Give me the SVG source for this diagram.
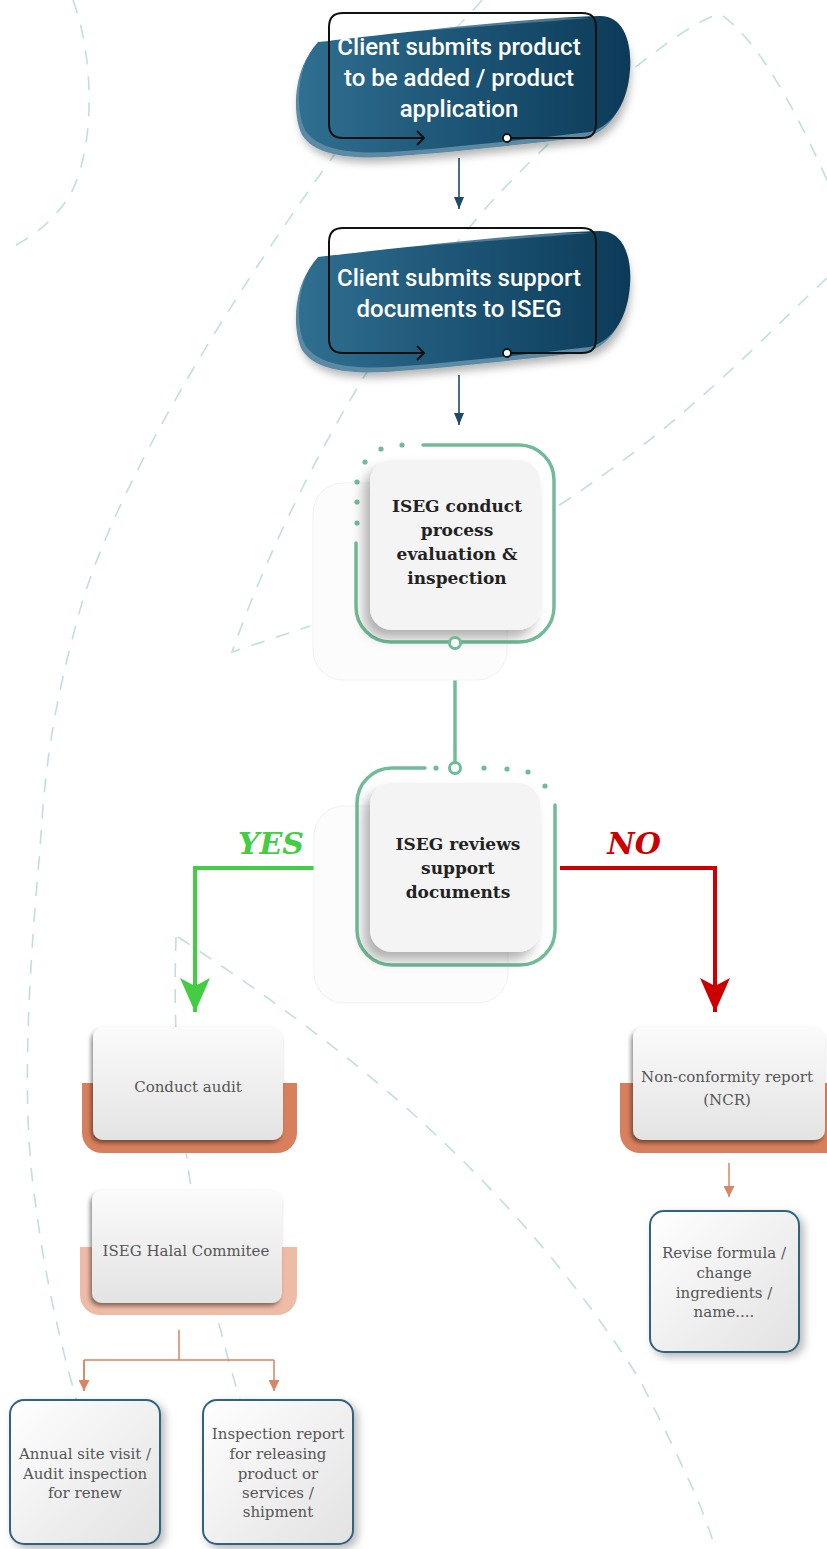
<svg xmlns="http://www.w3.org/2000/svg" width="827" height="1549" viewBox="0 0 827 1549">
<style>
.bg{fill:none;stroke:#bfe0dc;stroke-width:1.6;stroke-dasharray:14 12}
.wt{font-family:Roboto,"Open Sans","DejaVu Sans",sans-serif;font-size:24px;font-weight:500;fill:#fff;text-anchor:middle}
.bt{font-family:"DejaVu Serif","Liberation Serif",serif;font-size:17px;font-weight:bold;fill:#222;text-anchor:middle}
.gt{font-family:"DejaVu Serif","Liberation Serif",serif;font-size:15px;fill:#555;text-anchor:middle}
.frame{fill:none;stroke:#72bb99;stroke-width:3.5;stroke-linecap:round}
.dot{fill:#72bb99}
.ring{fill:#fff;stroke:#72bb99;stroke-width:3}
.card{fill:#f4f4f4;filter:url(#cs)}
.ocard{fill:url(#og);filter:url(#os)}
.bbox{fill:url(#bg2);stroke:#2f6382;stroke-width:2;filter:url(#bs)}
.outline{fill:none;stroke:#111;stroke-width:2}
.blue{stroke:#1d4a6b;stroke-width:1.6;fill:none}
.orange{stroke:#d98462;stroke-width:1.5;fill:none}
.faint{fill:#fcfcfc;stroke:#f1f1f1;stroke-width:1}
</style>
<defs>
<linearGradient id="blob" x1="0" y1="0" x2="1" y2="0">
<stop offset="0" stop-color="#306f90"/><stop offset="0.5" stop-color="#1c5475"/><stop offset="1" stop-color="#0c3b58"/>
</linearGradient>
<linearGradient id="og" x1="0" y1="0" x2="0" y2="1">
<stop offset="0" stop-color="#fbfbfb"/><stop offset="1" stop-color="#e3e3e3"/>
</linearGradient>
<linearGradient id="bg2" x1="0" y1="0" x2="1" y2="1">
<stop offset="0" stop-color="#ffffff"/><stop offset="1" stop-color="#e2e2e2"/>
</linearGradient>
<filter id="sh" x="-20%" y="-20%" width="140%" height="150%"><feDropShadow dx="3" dy="5" stdDeviation="4" flood-color="#000" flood-opacity="0.3"/></filter>
<filter id="cs" x="-30%" y="-30%" width="160%" height="160%"><feDropShadow dx="-6" dy="8" stdDeviation="6" flood-color="#000" flood-opacity="0.3"/></filter>
<filter id="os" x="-20%" y="-20%" width="140%" height="140%"><feDropShadow dx="-2" dy="3" stdDeviation="2" flood-color="#000" flood-opacity="0.45"/></filter>
<filter id="bs" x="-20%" y="-20%" width="140%" height="140%"><feDropShadow dx="4" dy="4" stdDeviation="4" flood-color="#000" flood-opacity="0.28"/></filter>
<marker id="ab" markerUnits="userSpaceOnUse" markerWidth="12" markerHeight="10" viewBox="0 0 12 10" refX="12" refY="5" orient="auto"><path d="M0,0 L12,5 L0,10 z" fill="#1d4a6b"/></marker>
<marker id="ao" markerUnits="userSpaceOnUse" markerWidth="11" markerHeight="11" viewBox="0 0 11 11" refX="11" refY="5.5" orient="auto"><path d="M0,0 L11,5.5 L0,11 z" fill="#d98462"/></marker>
<marker id="ag" markerUnits="userSpaceOnUse" markerWidth="34" markerHeight="30" viewBox="0 0 34 30" refX="34" refY="15" orient="auto"><path d="M0,0 L34,15 L0,30 L8,15 z" fill="#44cc44"/></marker>
<marker id="ar" markerUnits="userSpaceOnUse" markerWidth="34" markerHeight="30" viewBox="0 0 34 30" refX="34" refY="15" orient="auto"><path d="M0,0 L34,15 L0,30 L8,15 z" fill="#cc0000"/></marker>
<path id="blobshape" d="M318,42 C380,35 520,18 600,16 C625,16 632,45 630,70 C628,100 615,125 590,132 C520,140 450,148 390,152 C350,154 318,150 305,130 C295,110 296,65 318,42 Z"/>
</defs>
<rect width="827" height="1549" fill="#fff"/>

<g id="background">
<path class="bg" d="M73,0 C95,60 95,150 70,195 C55,220 30,240 5,250"/>
<path class="bg" d="M482,0 C440,50 380,90 340,147 C250,270 120,470 80,610 C55,700 45,760 40,850 C30,960 20,1100 35,1200 C45,1280 65,1370 95,1460"/>
<path class="bg" d="M827,180 C800,120 760,40 720,14 C690,20 600,90 520,172 C420,270 300,460 232,652 L310,626"/>
<path class="bg" d="M827,278 C760,340 690,420 555,508"/>
<path class="bg" d="M178,937 C320,1030 500,1160 640,1380 C680,1460 705,1510 715,1549"/>
<path class="bg" d="M176,937 C172,1050 180,1200 240,1400"/>
</g>

<g id="connectors">
<line class="blue" x1="459" y1="158" x2="459" y2="209" marker-end="url(#ab)"/>
<line class="blue" x1="459" y1="375" x2="459" y2="425" marker-end="url(#ab)"/>
<line x1="455" y1="650" x2="455" y2="762" stroke="#72bb99" stroke-width="3.5"/>
<path d="M350,868 H195 V1012" fill="none" stroke="#44cc44" stroke-width="4" marker-end="url(#ag)"/>
<path d="M560,868 H715 V1012" fill="none" stroke="#cc0000" stroke-width="4" marker-end="url(#ar)"/>
<text x="271" y="854" font-family="'DejaVu Serif','Liberation Serif',serif" font-size="30" font-weight="bold" font-style="italic" fill="#44cc44" text-anchor="middle">YES</text>
<text x="634" y="854" font-family="'DejaVu Serif','Liberation Serif',serif" font-size="30" font-weight="bold" font-style="italic" fill="#cc0000" text-anchor="middle">NO</text>
<path class="orange" d="M179,1330 V1360 M84,1360 H274 M84,1360 V1391 M274,1360 V1391" marker-end="url(#ao)"/>
<path class="orange" d="M84,1360 V1391" marker-end="url(#ao)"/>
<line class="orange" x1="729" y1="1163" x2="729" y2="1197" marker-end="url(#ao)"/>
</g>

<g id="node1">
<use href="#blobshape" fill="#5b8aa5" transform="translate(-3,5)" filter="url(#sh)"/>
<use href="#blobshape" fill="url(#blob)"/>
<path d="M345,30 C420,24 520,16 590,18 C540,22 440,30 345,36 Z" fill="#fff" opacity="0.25"/>
<path class="outline" d="M424,138 H343 Q329,138 329,124 V27 Q329,13 343,13 H582 Q596,13 596,27 V124 Q596,138 582,138 H511"/>
<path class="outline" d="M417,131 L424,138 L417,145"/>
<circle cx="507" cy="138" r="4" fill="#fff" stroke="#111" stroke-width="1.8"/>
<text class="wt" x="459" y="55">Client submits product</text>
<text class="wt" x="459" y="86">to be added / product</text>
<text class="wt" x="459" y="117">application</text>
</g>

<g id="node2">
<g transform="translate(0,215)">
<use href="#blobshape" fill="#5b8aa5" transform="translate(-3,5)" filter="url(#sh)"/>
<use href="#blobshape" fill="url(#blob)"/>
<path d="M345,30 C420,24 520,16 590,18 C540,22 440,30 345,36 Z" fill="#fff" opacity="0.25"/>
<path class="outline" d="M424,138 H343 Q329,138 329,124 V27 Q329,13 343,13 H582 Q596,13 596,27 V124 Q596,138 582,138 H511"/>
<path class="outline" d="M417,131 L424,138 L417,145"/>
<circle cx="507" cy="138" r="4" fill="#fff" stroke="#111" stroke-width="1.8"/>
</g>
<text class="wt" x="459" y="286">Client submits support</text>
<text class="wt" x="459" y="317">documents to ISEG</text>
</g>

<g id="node3">
<rect class="faint" x="313" y="483" width="194" height="197" rx="30"/>
<path class="frame" d="M423,445 H519 A35,35 0 0 1 554,480 V607 A35,35 0 0 1 519,642 H391 A35,35 0 0 1 356,607 V543"/>
<circle class="dot" cx="402" cy="445" r="2.6"/>
<circle class="dot" cx="381" cy="449" r="2.6"/>
<circle class="dot" cx="365" cy="462" r="2.6"/>
<circle class="dot" cx="357" cy="482" r="2.6"/>
<circle class="dot" cx="357" cy="502" r="2.6"/>
<circle class="dot" cx="357" cy="523" r="2.6"/>
<rect class="card" x="370" y="460" width="170" height="170" rx="22"/>
<circle class="ring" cx="455" cy="643" r="5.5"/>
<text class="bt" x="457" y="512">ISEG conduct</text>
<text class="bt" x="457" y="536">process</text>
<text class="bt" x="457" y="560">evaluation &amp;</text>
<text class="bt" x="457" y="584">inspection</text>
</g>

<g id="node4">
<rect class="faint" x="314" y="806" width="194" height="197" rx="30"/>
<path class="frame" d="M425,768 H392 A35,35 0 0 0 357,803 V930 A35,35 0 0 0 392,965 H520 A35,35 0 0 0 555,930 V805"/>
<circle class="dot" cx="436" cy="768" r="2.6"/>
<circle class="dot" cx="484" cy="768" r="2.6"/>
<circle class="dot" cx="507" cy="769" r="2.6"/>
<circle class="dot" cx="528" cy="772" r="2.6"/>
<circle class="dot" cx="545" cy="786" r="2.6"/>
<rect class="card" x="370" y="783" width="170" height="169" rx="22"/>
<circle class="ring" cx="455" cy="768" r="5.5"/>
<text class="bt" x="458" y="850">ISEG reviews</text>
<text class="bt" x="458" y="874">support</text>
<text class="bt" x="458" y="898">documents</text>
</g>

<g id="node5">
<path d="M82,1083 H297 V1133 A20,20 0 0 1 277,1153 H102 A20,20 0 0 1 82,1133 Z" fill="#d8805d"/>
<rect class="ocard" x="93" y="1027" width="190" height="113" rx="10"/>
<text class="gt" x="188" y="1092">Conduct audit</text>
</g>

<g id="node6">
<path d="M80,1247 H297 V1295 A20,20 0 0 1 277,1315 H100 A20,20 0 0 1 80,1295 Z" fill="#eebba6"/>
<rect class="ocard" x="92" y="1190" width="190" height="113" rx="10"/>
<text class="gt" x="186" y="1256">ISEG Halal Commitee</text>
</g>

<g id="node7">
<path d="M620,1083 H827 V1153 H640 A20,20 0 0 1 620,1133 Z" fill="#d8805d"/>
<rect class="ocard" x="633" y="1027" width="192" height="113" rx="10"/>
<text class="gt" x="727" y="1082">Non-conformity report</text>
<text class="gt" x="727" y="1105">(NCR)</text>
</g>

<g id="node8">
<rect class="bbox" x="650" y="1211" width="149" height="141" rx="14"/>
<text class="gt" x="724" y="1258">Revise formula /</text>
<text class="gt" x="724" y="1278">change</text>
<text class="gt" x="724" y="1298">ingredients /</text>
<text class="gt" x="724" y="1317">name....</text>
</g>

<g id="node9">
<rect class="bbox" x="10" y="1400" width="150" height="144" rx="14"/>
<text class="gt" x="85" y="1459">Annual site visit /</text>
<text class="gt" x="85" y="1479">Audit inspection</text>
<text class="gt" x="85" y="1498">for renew</text>
</g>

<g id="node10">
<rect class="bbox" x="203" y="1400" width="150" height="144" rx="14"/>
<text class="gt" x="278" y="1439">Inspection report</text>
<text class="gt" x="278" y="1459">for releasing</text>
<text class="gt" x="278" y="1479">product or</text>
<text class="gt" x="278" y="1498">services /</text>
<text class="gt" x="278" y="1517">shipment</text>
</g>
</svg>
